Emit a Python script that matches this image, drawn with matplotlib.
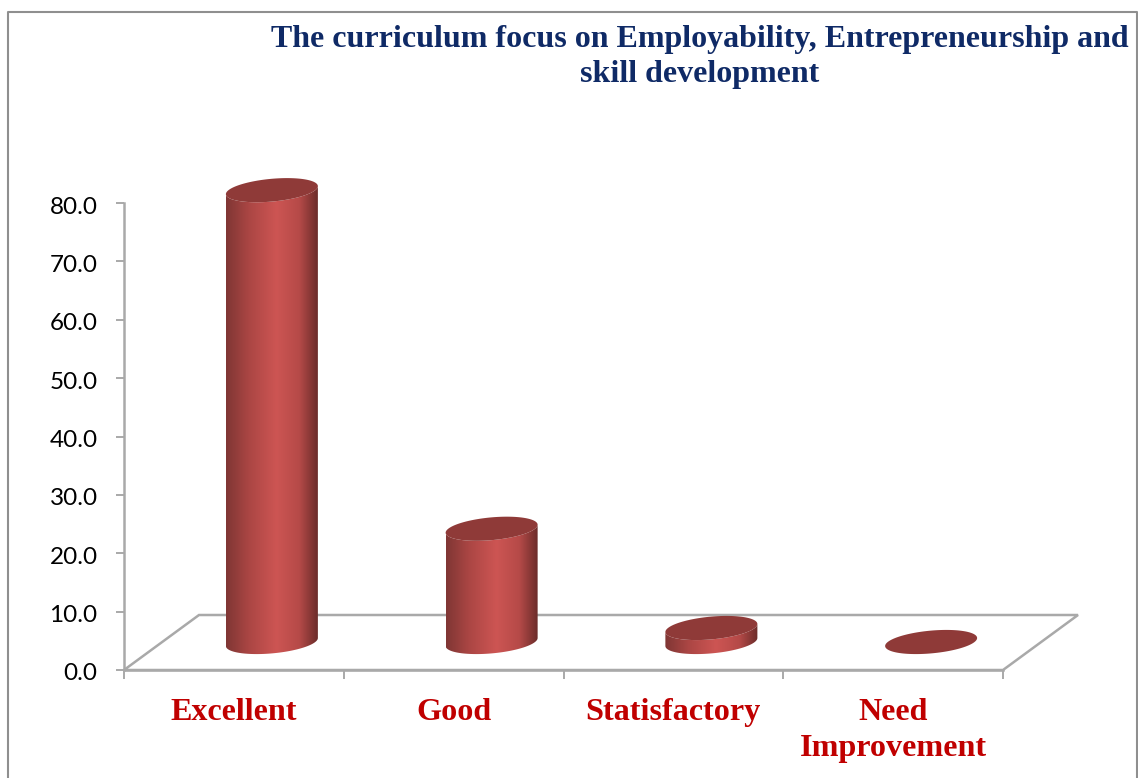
import numpy as np
import matplotlib
matplotlib.use("Agg")
import matplotlib.pyplot as plt
from matplotlib.colors import LinearSegmentedColormap
from matplotlib.patches import Polygon
from matplotlib.transforms import ScaledTranslation

# chart data
categories = ["Excellent", "Good", "Statisfactory", "Need\nImprovement"]
values = [77.4, 19.4, 2.4, 0.0]
y_ticks = [0, 10, 20, 30, 40, 50, 60, 70, 80]
title = "The curriculum focus on Employability, Entrepreneurship and\nskill development"

W, H = 1138, 778
fig = plt.figure(figsize=(W / 100, H / 100), dpi=100)

# axes box is the front plane of the 3d chart, in pixels
left, right, top, bottom = 124, 1003, 203, 670
ax = fig.add_axes([left / W, 1 - bottom / H, (right - left) / W, (bottom - top) / H])
ax.set_xlim(0, 4)
ax.set_ylim(0, 80)
ax.patch.set_visible(False)

px_x = 4 / (right - left)
px_y = 80 / (bottom - top)

# fake perspective, in pixels
depth_x, depth_y = 75, 55
bar_dx, bar_dy = 38, 28
half_w, half_h, tilt = 46, 11.4, 4

grey = "#a9a9a9"
ax.add_patch(Polygon([(0, 0), (4, 0), (4 + depth_x * px_x, depth_y * px_y),
                      (depth_x * px_x, depth_y * px_y)], closed=True, fill=False,
                     edgecolor=grey, lw=1.8, clip_on=False, zorder=1))

cmap = LinearSegmentedColormap.from_list(
    "cyl", [(0, "#7f3634"), (0.25, "#ab4644"), (0.55, "#cd5553"), (0.8, "#b54a48"), (1, "#6b2c2a")])
top_color = "#8f3a38"


def ellipse(cx, cy, t):
    x = cx + half_w * px_x * np.cos(t)
    y = cy + half_h * px_y * np.sin(t) + tilt * px_y * np.cos(t)
    return x, y


t_all = np.linspace(0, 2 * np.pi, 120)
for i, v in enumerate(values):
    cx = i + 0.5 + bar_dx * px_x
    cy = bar_dy * px_y
    # body: lower half of the base ellipse, upper part closed by the top one
    if v > 0:
        t_low = np.linspace(np.pi, 2 * np.pi, 60)
        bx, by = ellipse(cx, cy, t_low)
        tx, ty = ellipse(cx, cy + v, t_low[::-1])
        body = Polygon(np.column_stack([np.r_[bx, tx], np.r_[by, ty]]), closed=True,
                       transform=ax.transData, facecolor="none", edgecolor="none")
        ax.add_patch(body)
        im = ax.imshow(np.linspace(0, 1, 256).reshape(1, -1), cmap=cmap, aspect="auto",
                       extent=[cx - half_w * px_x, cx + half_w * px_x, 0, cy + v + 10],
                       zorder=3)
        im.set_clip_box(fig.bbox)
        im.set_clip_path(body)
    ex, ey = ellipse(cx, cy + v, t_all)
    ax.fill(ex, ey, color=top_color, lw=0, zorder=4, clip_on=False)

ax.set_xlim(0, 4)
ax.set_ylim(0, 80)

for s in ["top", "right"]:
    ax.spines[s].set_visible(False)
for s in ["left", "bottom"]:
    ax.spines[s].set_color(grey)
    ax.spines[s].set_linewidth(1.8)

ax.set_yticks(y_ticks)
ax.set_yticklabels([f"{v:.1f}" for v in y_ticks], fontfamily="Lato", fontsize=17.5, color="black")
ax.tick_params(axis="y", length=6, width=1.4, color=grey, pad=13)
# labels sit a little under their ticks
for lab in ax.get_yticklabels():
    lab.set_transform(lab.get_transform() + ScaledTranslation(0, -2 / 100, fig.dpi_scale_trans))

ax.set_xticks(range(5))
ax.set_xticklabels([])
ax.tick_params(axis="x", length=6.5, width=1.4, color=grey)
ax.set_xticks(np.arange(4) + 0.5, minor=True)
ax.set_xticklabels(categories, minor=True, fontfamily="Liberation Serif", fontweight="bold",
                   fontsize=23.1, color="#c00000", linespacing=1.28)
ax.tick_params(axis="x", which="minor", length=0, pad=20.5)

fig.text(700 / W, 1 - 57 / H, title, ha="center", va="center", fontfamily="Liberation Serif",
         fontweight="bold", fontsize=23, color="#0f2a66", linespacing=1.28)

# outer frame of the picture
fig.add_artist(plt.Line2D([8 / W, 8 / W, 1137 / W, 1137 / W], [0, 1 - 12 / H, 1 - 12 / H, 0],
                          color="#8f8f8f", lw=1.5))

fig.savefig("out.png", dpi=100)
